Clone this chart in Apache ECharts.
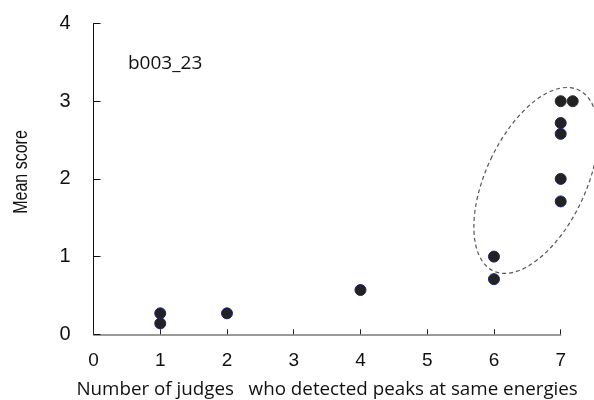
<!DOCTYPE html>
<html>
<head>
<meta charset="utf-8">
<script src="https://cdn.jsdelivr.net/npm/echarts@6/dist/echarts.min.js"></script>
<style>
  html, body { margin: 0; padding: 0; background: #fff; }
  #chart { width: 594px; height: 400px; }
</style>
</head>
<body>
<div id="chart"></div>
<script>
// Number of judges (x) and mean score (y) for each detected peak
const judges = [1, 1, 2, 4, 6, 6, 7, 7.18, 7, 7, 7, 7];
const meanScores = [0.27, 0.14, 0.27, 0.57, 1.0, 0.71, 3.0, 3.0, 2.72, 2.58, 2.0, 1.71];
const xTicks = [0, 1, 2, 3, 4, 5, 6, 7];
const yTicks = [0, 1, 2, 3, 4];
const sampleLabel = 'b003_23';
const xTitle = 'Number of judges   who detected peaks at same energies';
const yTitle = 'Mean score';
// Outlined group: centre in data units
const groupCenter = [6.63, 1.98];

const chart = echarts.init(document.getElementById('chart'));

const points = judges.map((x, i) => ({
  value: [x, meanScores[i]],
  itemStyle: { borderColor: meanScores[i] >= 3 ? '#2a2a2a' : '#1f1f7a' }
}));

chart.setOption({
  animation: false,
  grid: {
    left: 93.5, right: 33.3, top: 23.5, bottom: 65.7,
    containLabel: false, outerBoundsMode: 'none'
  },
  xAxis: {
    type: 'value', min: xTicks[0], max: xTicks[xTicks.length - 1], interval: 1,
    name: xTitle, nameLocation: 'middle', nameGap: 46,
    nameTextStyle: { fontSize: 18.8, color: '#111', fontFamily: 'Open Sans' },
    splitLine: { show: false },
    axisLine: { lineStyle: { color: '#7a7a7a', width: 1.5 } },
    axisTick: { inside: true, length: 5, lineStyle: { color: '#222' } },
    axisLabel: { margin: 17, fontSize: 19, color: '#111', fontFamily: 'Liberation Sans' }
  },
  yAxis: {
    type: 'value', min: yTicks[0], max: yTicks[yTicks.length - 1], interval: 1,
    splitLine: { show: false },
    axisLine: { onZero: false, lineStyle: { color: '#111', width: 1 } },
    axisTick: { inside: true, length: 7, lineStyle: { color: '#111' } },
    axisLabel: { margin: 23, fontSize: 20, color: '#111', fontFamily: 'Liberation Sans' }
  },
  series: [{
    type: 'scatter', clip: false, symbolSize: 11,
    itemStyle: { color: '#222', borderWidth: 1, opacity: 1 },
    data: points
  }]
});

const c = chart.convertToPixel({ gridIndex: 0 }, groupCenter);
chart.setOption({
  graphic: [
    {
      type: 'ellipse', x: c[0], y: c[1], rotation: -0.44,
      shape: { cx: 0, cy: 0, rx: 50, ry: 100 },
      style: { fill: 'none', stroke: '#555', lineWidth: 1.2, lineDash: [4, 3] }
    },
    {
      type: 'text', x: 21, y: 172, rotation: Math.PI / 2, scaleX: 0.8,
      style: {
        text: yTitle, fontSize: 20, fill: '#111', fontFamily: 'Liberation Sans',
        align: 'center', verticalAlign: 'middle'
      }
    },
    {
      type: 'text', x: 128, y: 64,
      style: {
        text: sampleLabel, fontSize: 19, fill: '#111', fontFamily: 'Open Sans',
        align: 'left', verticalAlign: 'middle'
      }
    }
  ]
});
</script>
</body>
</html>
